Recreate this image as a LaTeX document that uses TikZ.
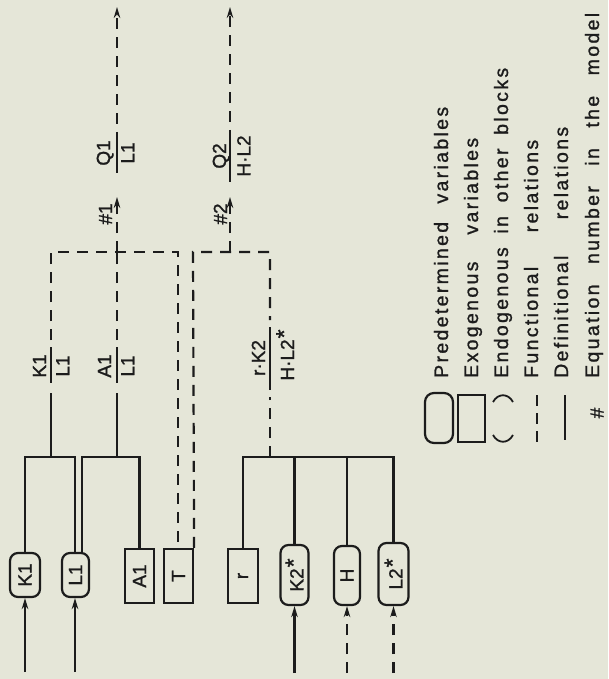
\documentclass[tikz,border=0pt]{standalone}
\usepackage{fontspec}
\setmainfont{Liberation Sans}
\newfontfamily\inkfont[FakeBold=1.2]{Liberation Sans}
\newfontfamily\lgfont[LetterSpace=12,FakeBold=1.2]{Liberation Sans}
\usetikzlibrary{arrows.meta}
\definecolor{paper}{RGB}{229,230,216}
\definecolor{ink}{RGB}{28,28,28}
\newcommand\bigast{\kern1pt\raisebox{2pt}{\fontsize{23}{23}\selectfont *}}
\tikzset{
  ln/.style={draw=ink, line width=2.2pt},
  fn/.style={draw=ink, line width=2.2pt, dash pattern=on 11pt off 8pt},
  tip/.style={-{Stealth[length=11pt,width=6.5pt]}},
  lab/.style={font=\inkfont\fontsize{19}{19}\selectfont, text=ink},
  pre/.style={draw=ink, line width=2.2pt, rounded corners=8pt, inner sep=0pt, lab},
  exo/.style={draw=ink, line width=2.2pt, inner sep=0pt, lab},
  rl/.style={rotate=90, inner sep=0pt, lab},
  lgtext/.style={rotate=90, inner sep=0pt, anchor=base west, text=ink, font=\lgfont\fontsize{19.5}{19.5}\selectfont},
}
\begin{document}
\begin{tikzpicture}[x=1pt, y=-1pt]
\fill[paper] (0,0) rectangle (608,679);
\useasboundingbox (0,0) rectangle (608,679);

% ---------- variable boxes ----------
\node[pre, minimum width=30pt, minimum height=44pt] (K1) at (25,575) {\rotatebox{90}{K1}};
\node[pre, minimum width=27pt, minimum height=44pt] (L1) at (75.5,575) {\rotatebox{90}{L1}};
\node[exo, minimum width=29pt, minimum height=54pt] (A1) at (139.5,576) {\rotatebox{90}{A1}};
\node[exo, minimum width=29pt, minimum height=54pt] (T) at (178.5,576) {\rotatebox{90}{T}};
\node[exo, minimum width=30pt, minimum height=54pt] (r) at (243,576) {\rotatebox{90}{r}};
\node[pre, minimum width=28pt, minimum height=60pt] (K2) at (294.5,575) {\rotatebox{90}{K2\bigast}};
\node[pre, minimum width=26pt, minimum height=59pt] (H) at (347,575.5) {\rotatebox{90}{H}};
\node[pre, minimum width=30pt, minimum height=62pt] (L2) at (393.5,574) {\rotatebox{90}{L2\bigast}};

% ---------- inputs from below ----------
\coordinate (inK1) at (25,672);
\coordinate (inL1) at (75,672);
\coordinate (inK2) at (294.5,673);
\coordinate (inH) at (347,673);
\coordinate (inL2) at (393.5,673);
\draw[ln,tip] (inK1) -- (K1.south);
\draw[ln,tip] (inL1) -- (inL1 |- L1.south);
\draw[ln,tip] (inK2) -- (K2.south);
\draw[fn,tip] (inH) -- (H.south);
\draw[fn,tip] (inL2) -- (L2.south);

% ---------- block 1 buses ----------
\coordinate (L1a) at (75,553);
\coordinate (L1b) at (82,553);
\coordinate (b1l) at (25,457);
\coordinate (b1r) at (75,457);
\coordinate (b1m) at (51,457);
\coordinate (b1bl) at (82,457);
\coordinate (b1br) at (139.5,457);
\coordinate (b1bm) at (117,457);
\draw[ln] (K1.north) -- (b1l) -- (b1r) -- (L1a);
\draw[ln] (L1b) -- (b1bl) -- (b1br) -- (A1.north);
\coordinate (s1b) at (51,393);
\coordinate (s2b) at (117,393);
\draw[ln] (b1m) -- (s1b);
\draw[ln] (b1bm) -- (s2b);

% fractions K1/L1 and A1/L1
\coordinate (fb1a) at (51,347); \coordinate (fb1b) at (51,383);
\coordinate (fb2a) at (117,347); \coordinate (fb2b) at (117,383);
\draw[ln] (fb1a) -- (fb1b);
\draw[ln] (fb2a) -- (fb2b);
\node[rl, anchor=base] (n1) at (46,366) {K1};
\node[rl, anchor=north] (d1) at (56,366) {L1};
\node[rl, anchor=base] (n2) at (111,366) {A1};
\node[rl, anchor=north] (d2) at (121,366) {L1};

% dashed upper connections, block 1
\coordinate (s1a) at (51,340);
\coordinate (s2a) at (117,340);
\coordinate (c1) at (51,252);
\coordinate (c2) at (178,252);
\coordinate (j1) at (117,252);
\coordinate (e1) at (117,197);
\draw[fn] (s1a) -- (c1) -- (c2) -- (c2 |- T.north);
\draw[fn] (s2a) -- (j1);
\draw[fn,tip] (j1) -- (e1);
\node[rl, anchor=base] (eq1) at (112,214) {\#1};

% ---------- block 2 ----------
\coordinate (c3) at (193,252);
\coordinate (c4) at (270,252);
\coordinate (s3a) at (270,320);
\coordinate (s3b) at (270,397);
\coordinate (j2) at (230,252);
\coordinate (e2) at (230,197);
\draw[fn] (T.north east) -- (c3) -- (c4) -- (s3a);
\draw[fn,tip] (j2) -- (e2);
\node[rl, anchor=base] (eq2) at (227,214) {\#2};

\coordinate (b2l) at (243,457);
\coordinate (b2r) at (393.5,457);
\coordinate (b2m) at (270,457);
\draw[ln] (r.north) -- (b2l) -- (b2r) -- (L2.north);
\draw[ln] (K2.north) -- (K2.north |- b2l);
\draw[ln] (H.north) -- (H.north |- b2l);
\draw[fn] (b2m) -- (s3b);

\coordinate (fb3a) at (270,327); \coordinate (fb3b) at (270,390);
\draw[ln] (fb3a) -- (fb3b);
\node[rl, anchor=base] (n3) at (265,358) {r·K2};
\node[rl, anchor=north] (d3) at (276,355) {H·L2\bigast};

% ---------- outputs ----------
\coordinate (fb4a) at (117,132); \coordinate (fb4b) at (117,173);
\coordinate (fb5a) at (230,130); \coordinate (fb5b) at (230,182);
\draw[ln] (fb4a) -- (fb4b);
\draw[ln] (fb5a) -- (fb5b);
\node[rl, anchor=base] (n4) at (110,153) {Q1};
\node[rl, anchor=north] (d4) at (121,153) {L1};
\node[rl, anchor=base] (n5) at (226,156) {Q2};
\node[rl, anchor=north] (d5) at (237,156) {H·L2};
\coordinate (o1s) at (117,124); \coordinate (o1e) at (117,7);
\coordinate (o2s) at (230,122); \coordinate (o2e) at (230,7);
\draw[fn,tip] (o1s) -- (o1e);
\draw[fn,tip] (o2s) -- (o2e);

% ---------- legend ----------
\node[pre, rounded corners=9pt, minimum width=28pt, minimum height=50pt] (lgP) at (439,418) {};
\node[exo, minimum width=27pt, minimum height=47pt] (lgE) at (471.5,418.5) {};
\draw[ln, line width=1.8pt] (493,402) .. controls (498,393) and (508,393) .. (513,402);
\draw[ln, line width=1.8pt] (493,435) .. controls (498,444) and (508,444) .. (513,435);
\coordinate (lgFa) at (537,395); \coordinate (lgFb) at (537,442);
\draw[ln, dash pattern=on 11pt off 7pt] (lgFa) -- (lgFb);
\coordinate (lgDa) at (565,395); \coordinate (lgDb) at (565,440);
\draw[ln] (lgDa) -- (lgDb);
\node[rl] (lgH) at (597,413) {\#};

\node[lgtext] (t1) at (448,378) {\makebox[271pt][s]{Predetermined variables}};
\node[lgtext] (t2) at (478,378) {\makebox[240pt][s]{Exogenous variables}};
\node[lgtext] (t3) at (508,378) {\makebox[310pt][s]{Endogenous in other blocks}};
\node[lgtext] (t4) at (538,378) {\makebox[238pt][s]{Functional relations}};
\node[lgtext] (t5) at (568,378) {\makebox[251pt][s]{Definitional relations}};
\node[lgtext] (t6) at (599,378) {\makebox[365pt][s]{Equation number in the model}};
\end{tikzpicture}
\end{document}
